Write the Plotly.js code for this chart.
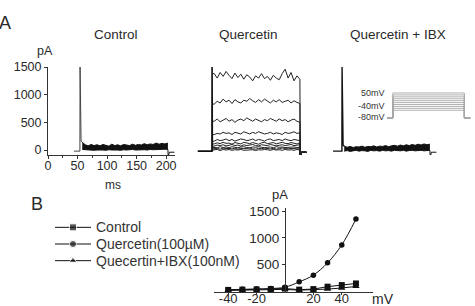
<!DOCTYPE html>
<html>
<head>
<meta charset="utf-8">
<script src="https://cdn.plot.ly/plotly-3.0.1.min.js"></script>
<style>
  html, body { margin: 0; padding: 0; background: #fff; }
  #chart { width: 475px; height: 306px; }
</style>
</head>
<body>
<div id="chart"></div>
<script>
// ---- Panel A: whole-cell current sweeps (pA vs ms) ----
const sweepTimes = [58, 63, 68, 73, 78, 83, 88, 93, 98, 103, 108, 113, 118, 123, 128,
                    133, 138, 143, 148, 153, 158, 163, 168, 173, 178, 183, 188, 193, 198, 203];
const holdCurrent = -20;          // pA at the holding potential
const stepOnset = 54;             // ms
const spikePeak = 1500;           // capacitive transient, pA
const tailTimes = [203.5, 205.5, 214];
const tailCurrents = [-130, -40, -40];

// Control: overlapping sweeps form a dense band (upper / lower edge)
const controlUpper = [140, 95, 75, 100, 80, 95, 75, 100, 85, 70, 105, 80, 95, 75, 100,
                      90, 80, 105, 85, 100, 90, 115, 95, 110, 100, 125, 105, 120, 110, 125];
const controlLower = [10, 5, 0, 5, -5, 0, 5, 0, -5, 5, 0, 5, 0, -5, 5,
                      0, 5, 10, 0, 5, 10, 5, 0, 10, 5, 10, 5, 10, 15, 10];

// Quercetin: individual sweeps, largest first
const quercetin1 = [1380, 1300, 1400, 1330, 1420, 1350, 1290, 1390, 1310, 1370, 1280, 1360, 1320, 1250, 1340,
                    1300, 1380, 1290, 1330, 1260, 1350, 1300, 1270, 1380, 1460, 1300, 1400, 1250, 1340, 1280];
const quercetin2 = [830, 880, 850, 920, 870, 900, 840, 910, 870, 850, 900, 880, 930, 890, 860,
                    910, 870, 920, 880, 850, 900, 870, 910, 860, 880, 900, 850, 890, 860, 840];
const quercetin3 = [520, 560, 510, 540, 570, 520, 550, 500, 540, 560, 530, 580, 550, 520, 560,
                    540, 510, 550, 530, 570, 540, 520, 560, 530, 550, 510, 540, 560, 520, 500];
const quercetin4 = [280, 300, 290, 320, 300, 310, 280, 320, 300, 290, 330, 310, 290, 320, 300,
                    330, 310, 290, 300, 320, 290, 310, 300, 280, 320, 300, 310, 330, 300, 310];
const quercetin5 = [160, 190, 170, 180, 200, 170, 190, 160, 180, 200, 190, 170, 180, 200, 170,
                    190, 180, 160, 190, 200, 170, 180, 190, 170, 200, 180, 170, 190, 180, 170];
const quercetin6 = [110, 130, 115, 140, 120, 125, 105, 135, 120, 110, 140, 125, 115, 135, 120,
                    105, 130, 140, 115, 125, 135, 110, 125, 140, 120, 115, 135, 125, 110, 130];
const quercetin7 = [70, 90, 80, 95, 75, 85, 100, 80, 90, 70, 95, 80, 90, 100, 80,
                    75, 95, 85, 80, 100, 90, 75, 85, 95, 80, 90, 100, 80, 85, 95];
const quercetin8 = [50, 40, 60, 45, 55, 40, 60, 50, 40, 55, 60, 45, 40, 55, 50,
                    60, 55, 40, 50, 55, 40, 60, 50, 55, 45, 50, 60, 55, 45, 50];
const quercetin9 = [20, 30, 15, 35, 25, 30, 20, 35, 15, 30, 25, 30, 35, 20, 15,
                    30, 25, 35, 30, 20, 30, 15, 25, 35, 30, 20, 30, 25, 35, 30];
const quercetin10 = [0, 10, -10, 10, 0, 10, -5, 5, 0, 10, -5, 0, 10, 5, -10,
                     5, 0, 10, 5, -5, 10, 0, 5, -5, 10, 0, 5, -5, 10, 0];
const quercetinSweeps = [quercetin1, quercetin2, quercetin3, quercetin4, quercetin5,
                         quercetin6, quercetin7, quercetin8, quercetin9, quercetin10];

// Quercetin + IBX: dense band again
const ibxUpper = [70, 50, 65, 45, 60, 55, 70, 50, 65, 60, 75, 55, 70, 65, 80,
                  60, 75, 85, 70, 90, 75, 95, 80, 100, 85, 105, 90, 110, 95, 105];
const ibxLower = [-20, -10, -25, -15, -5, -20, -10, -15, -25, -5, -15, -10, -20, -5, -15,
                  -10, -20, -5, -10, -15, -5, -20, -10, -5, -15, -10, -5, -15, -10, -5];

// Voltage protocol (inset)
const holdingVoltage = -80;                                  // mV
const stepVoltages = [-40, -30, -20, -10, 0, 10, 20, 30, 40, 50];
const protocolTimes = [0, 10, 10, 132, 132, 142];            // ms

// ---- Panel B: current-voltage relation ----
const ivVoltages  = [-40, -30, -20, -10, 0, 10, 20, 30, 40, 50];
const ivControl   = [30, 35, 40, 45, 55, 35, 45, 90, 120, 150];
const ivQuercetin = [35, 40, 45, 55, 80, 180, 305, 535, 870, 1355];
const ivIBX       = [20, 25, 30, 35, 40, 25, 30, 45, 65, 95];
const ivTickVals  = [-40, -20, 20, 40];
const ivTickText  = ['-40', '-20', '20', '40'];
const seriesNames = ['Control', 'Quercetin(100\u00b5M)', 'Quecertin+IBX(100nM)'];
const seriesSymbols = ['square', 'circle', 'triangle-up'];

// ---- geometry helpers (pixel -> paper fraction) ----
const W = 475, H = 306;
const fx = p => p / W;
const fy = p => 1 - p / H;
const FONT = 'Liberation Sans, Arial, Helvetica, sans-serif';
const INK = '#111';
const TXT = '#2a2a2a';

const traces = [];
const line = (color, width) => ({ color: color, width: width || 1 });

// Control panel
traces.push({ x: [44, stepOnset, stepOnset + 0.3, stepOnset + 0.9, stepOnset + 1.3, stepOnset + 2, sweepTimes[0]],
              y: [holdCurrent, holdCurrent, spikePeak, 200, 800, 160, controlUpper[0]],
              xaxis: 'x', yaxis: 'y', mode: 'lines', line: line('#444', 1) });
traces.push({ x: sweepTimes, y: controlLower, xaxis: 'x', yaxis: 'y', mode: 'lines', line: line(INK, 1) });
traces.push({ x: sweepTimes, y: controlUpper, xaxis: 'x', yaxis: 'y', mode: 'lines', line: line(INK, 1),
              fill: 'tonexty', fillcolor: INK });
traces.push({ x: [sweepTimes[sweepTimes.length - 1]].concat(tailTimes),
              y: [controlLower[controlLower.length - 1]].concat(tailCurrents),
              xaxis: 'x', yaxis: 'y', mode: 'lines', line: line(INK, 1) });

// Quercetin panel
traces.push({ x: [30, stepOnset, stepOnset + 0.3, stepOnset + 0.8],
              y: [holdCurrent, holdCurrent, spikePeak, holdCurrent],
              xaxis: 'x2', yaxis: 'y2', mode: 'lines', line: line(INK, 1.6) });
quercetinSweeps.forEach(s => {
  traces.push({ x: [stepOnset + 1].concat(sweepTimes, tailTimes),
                y: [s[0]].concat(s, tailCurrents),
                xaxis: 'x2', yaxis: 'y2', mode: 'lines', line: line('#222', 1) });
});

// Quercetin + IBX panel
traces.push({ x: [39, stepOnset, stepOnset + 0.3, stepOnset + 0.8, stepOnset + 2, sweepTimes[0]],
              y: [holdCurrent, holdCurrent, spikePeak, 100, 90, ibxUpper[0]],
              xaxis: 'x3', yaxis: 'y3', mode: 'lines', line: line(INK, 1.4) });
traces.push({ x: sweepTimes, y: ibxLower, xaxis: 'x3', yaxis: 'y3', mode: 'lines', line: line(INK, 1) });
traces.push({ x: sweepTimes, y: ibxUpper, xaxis: 'x3', yaxis: 'y3', mode: 'lines', line: line(INK, 1),
              fill: 'tonexty', fillcolor: INK });
traces.push({ x: [sweepTimes[sweepTimes.length - 1]].concat(tailTimes),
              y: [ibxLower[ibxLower.length - 1]].concat(tailCurrents),
              xaxis: 'x3', yaxis: 'y3', mode: 'lines', line: line(INK, 1) });

// Voltage protocol inset
stepVoltages.forEach(v => {
  traces.push({ x: protocolTimes,
                y: [holdingVoltage, holdingVoltage, v, v, holdingVoltage, holdingVoltage],
                xaxis: 'x4', yaxis: 'y4', mode: 'lines', line: line('#a8a8a8', 0.9) });
});

// I-V curves
const ivSeries = [ivControl, ivQuercetin, ivIBX];
const ivShapes = ['linear', 'spline', 'linear'];
const ivSizes = [6, 5.5, 6.5];
ivSeries.forEach((vals, i) => {
  traces.push({ x: ivVoltages, y: vals, xaxis: 'x5', yaxis: 'y5', mode: 'lines+markers',
                name: seriesNames[i], cliponaxis: false,
                line: { color: INK, width: 1, shape: ivShapes[i] },
                marker: { symbol: seriesSymbols[i], size: ivSizes[i], color: INK } });
});

// Legend keys (line with centred marker)
seriesNames.forEach((n, i) => {
  traces.push({ x: [0, 0.5, 1], y: [i, i, i], xaxis: 'x6', yaxis: 'y6', mode: 'lines+markers',
                line: { color: INK, width: 1 },
                marker: { symbol: seriesSymbols[i], size: [0, 7, 0], color: INK } });
});

const hidden = { visible: false, fixedrange: true };
const tickFontA = { family: FONT, size: 12.5, color: TXT };
const tickFontB = { family: FONT, size: 13, color: TXT };

const layout = {
  width: W, height: H,
  margin: { l: 0, r: 0, t: 0, b: 0, pad: 0 },
  paper_bgcolor: '#fff', plot_bgcolor: 'rgba(0,0,0,0)',
  showlegend: false,
  font: { family: FONT, color: TXT },
  xaxis: { domain: [fx(48), fx(175)], range: [0, 215], anchor: 'y',
           showline: true, linecolor: '#333', linewidth: 1, showgrid: false, zeroline: false,
           tickmode: 'linear', tick0: 0, dtick: 50, ticks: 'outside', ticklen: 3, tickcolor: '#333',
           minor: { dtick: 25, tick0: 0, ticks: 'outside', ticklen: 2, tickcolor: '#333' },
           ticklabelstandoff: -4,
           tickfont: tickFontA, fixedrange: true },
  yaxis: { domain: [fy(155), fy(67)], range: [-90, 1500], anchor: 'x',
           showline: true, linecolor: '#333', linewidth: 1, showgrid: false, zeroline: false,
           tickmode: 'linear', tick0: 0, dtick: 500, ticks: 'outside', ticklen: 3, tickcolor: '#333',
           tickfont: tickFontA, fixedrange: true },
  xaxis2: Object.assign({ domain: [fx(180), fx(307)], range: [0, 215], anchor: 'y2' }, hidden),
  yaxis2: Object.assign({ domain: [fy(155), fy(67)], range: [-90, 1500], anchor: 'x2' }, hidden),
  xaxis3: Object.assign({ domain: [fx(310), fx(437)], range: [0, 215], anchor: 'y3' }, hidden),
  yaxis3: Object.assign({ domain: [fy(155), fy(67)], range: [-90, 1500], anchor: 'x3' }, hidden),
  xaxis4: Object.assign({ domain: [fx(387), fx(472)], range: [0, 145], anchor: 'y4' }, hidden),
  yaxis4: Object.assign({ domain: [fy(122), fy(88)], range: [-101, 76], anchor: 'x4' }, hidden),
  xaxis5: { domain: [fx(214), fx(373)], range: [-50, 62], anchor: 'y5',
            showline: true, linecolor: '#333', linewidth: 1, showgrid: false, zeroline: false,
            tickmode: 'array', tickvals: ivTickVals, ticktext: ivTickText,
            ticks: 'outside', ticklen: 2, tickcolor: '#333',
            ticklabelstandoff: -7,
            tickfont: tickFontB, fixedrange: true },
  yaxis5: { domain: [fy(291.5), fy(208)], range: [0, 1560], anchor: 'free', position: fx(285),
            showline: true, linecolor: '#333', linewidth: 1, showgrid: false, zeroline: false,
            tickmode: 'array', tickvals: [500, 1000, 1500], ticks: 'outside', ticklen: 3, tickcolor: '#333',
            tickfont: { family: FONT, size: 13.5, color: TXT }, fixedrange: true },
  xaxis6: Object.assign({ domain: [fx(55), fx(91)], range: [0, 1], anchor: 'y6' }, hidden),
  yaxis6: Object.assign({ domain: [fy(269), fy(219)], range: [2.5, -0.5], anchor: 'x6' }, hidden),
  annotations: []
};

const ann = (text, x, y, size, extra) => Object.assign({
  text: text, x: fx(x), y: fy(y), xref: 'paper', yref: 'paper',
  showarrow: false, xanchor: 'center', yanchor: 'middle',
  font: { family: FONT, size: size, color: TXT }
}, extra || {});

layout.annotations.push(ann('A', 5, 23, 18));
layout.annotations.push(ann('B', 37, 204, 18));
layout.annotations.push(ann('Control', 116, 34, 13.5));
layout.annotations.push(ann('Quercetin', 248, 34, 13.5));
layout.annotations.push(ann('Quercetin + IBX', 398, 34, 13.5));
layout.annotations.push(ann('pA', 45, 51, 12.5));
layout.annotations.push(ann('ms', 113, 185, 12));
layout.annotations.push(ann('pA', 280, 194, 13));
layout.annotations.push(ann('mV', 383, 299, 14));

// protocol labels beside the inset
[[50, '50mV', 0], [-40, '-40mV', 4.5], [-80, '-80mV', 1]].forEach(([v, t, dy]) => {
  layout.annotations.push({ text: t, x: fx(386), xref: 'paper', y: v, yref: 'y4', yshift: dy,
    showarrow: false, xanchor: 'right', yanchor: 'middle', borderpad: 0,
    font: { family: FONT, size: 9, color: '#333' } });
});

// legend labels
seriesNames.forEach((n, i) => {
  layout.annotations.push({ text: n, x: fx(94), xref: 'paper', y: i, yref: 'y6',
    showarrow: false, xanchor: 'left', yanchor: 'middle',
    font: { family: FONT, size: 14, color: '#333' } });
});

Plotly.newPlot('chart', traces, layout, { staticPlot: true, displayModeBar: false });
</script>
</body>
</html>
